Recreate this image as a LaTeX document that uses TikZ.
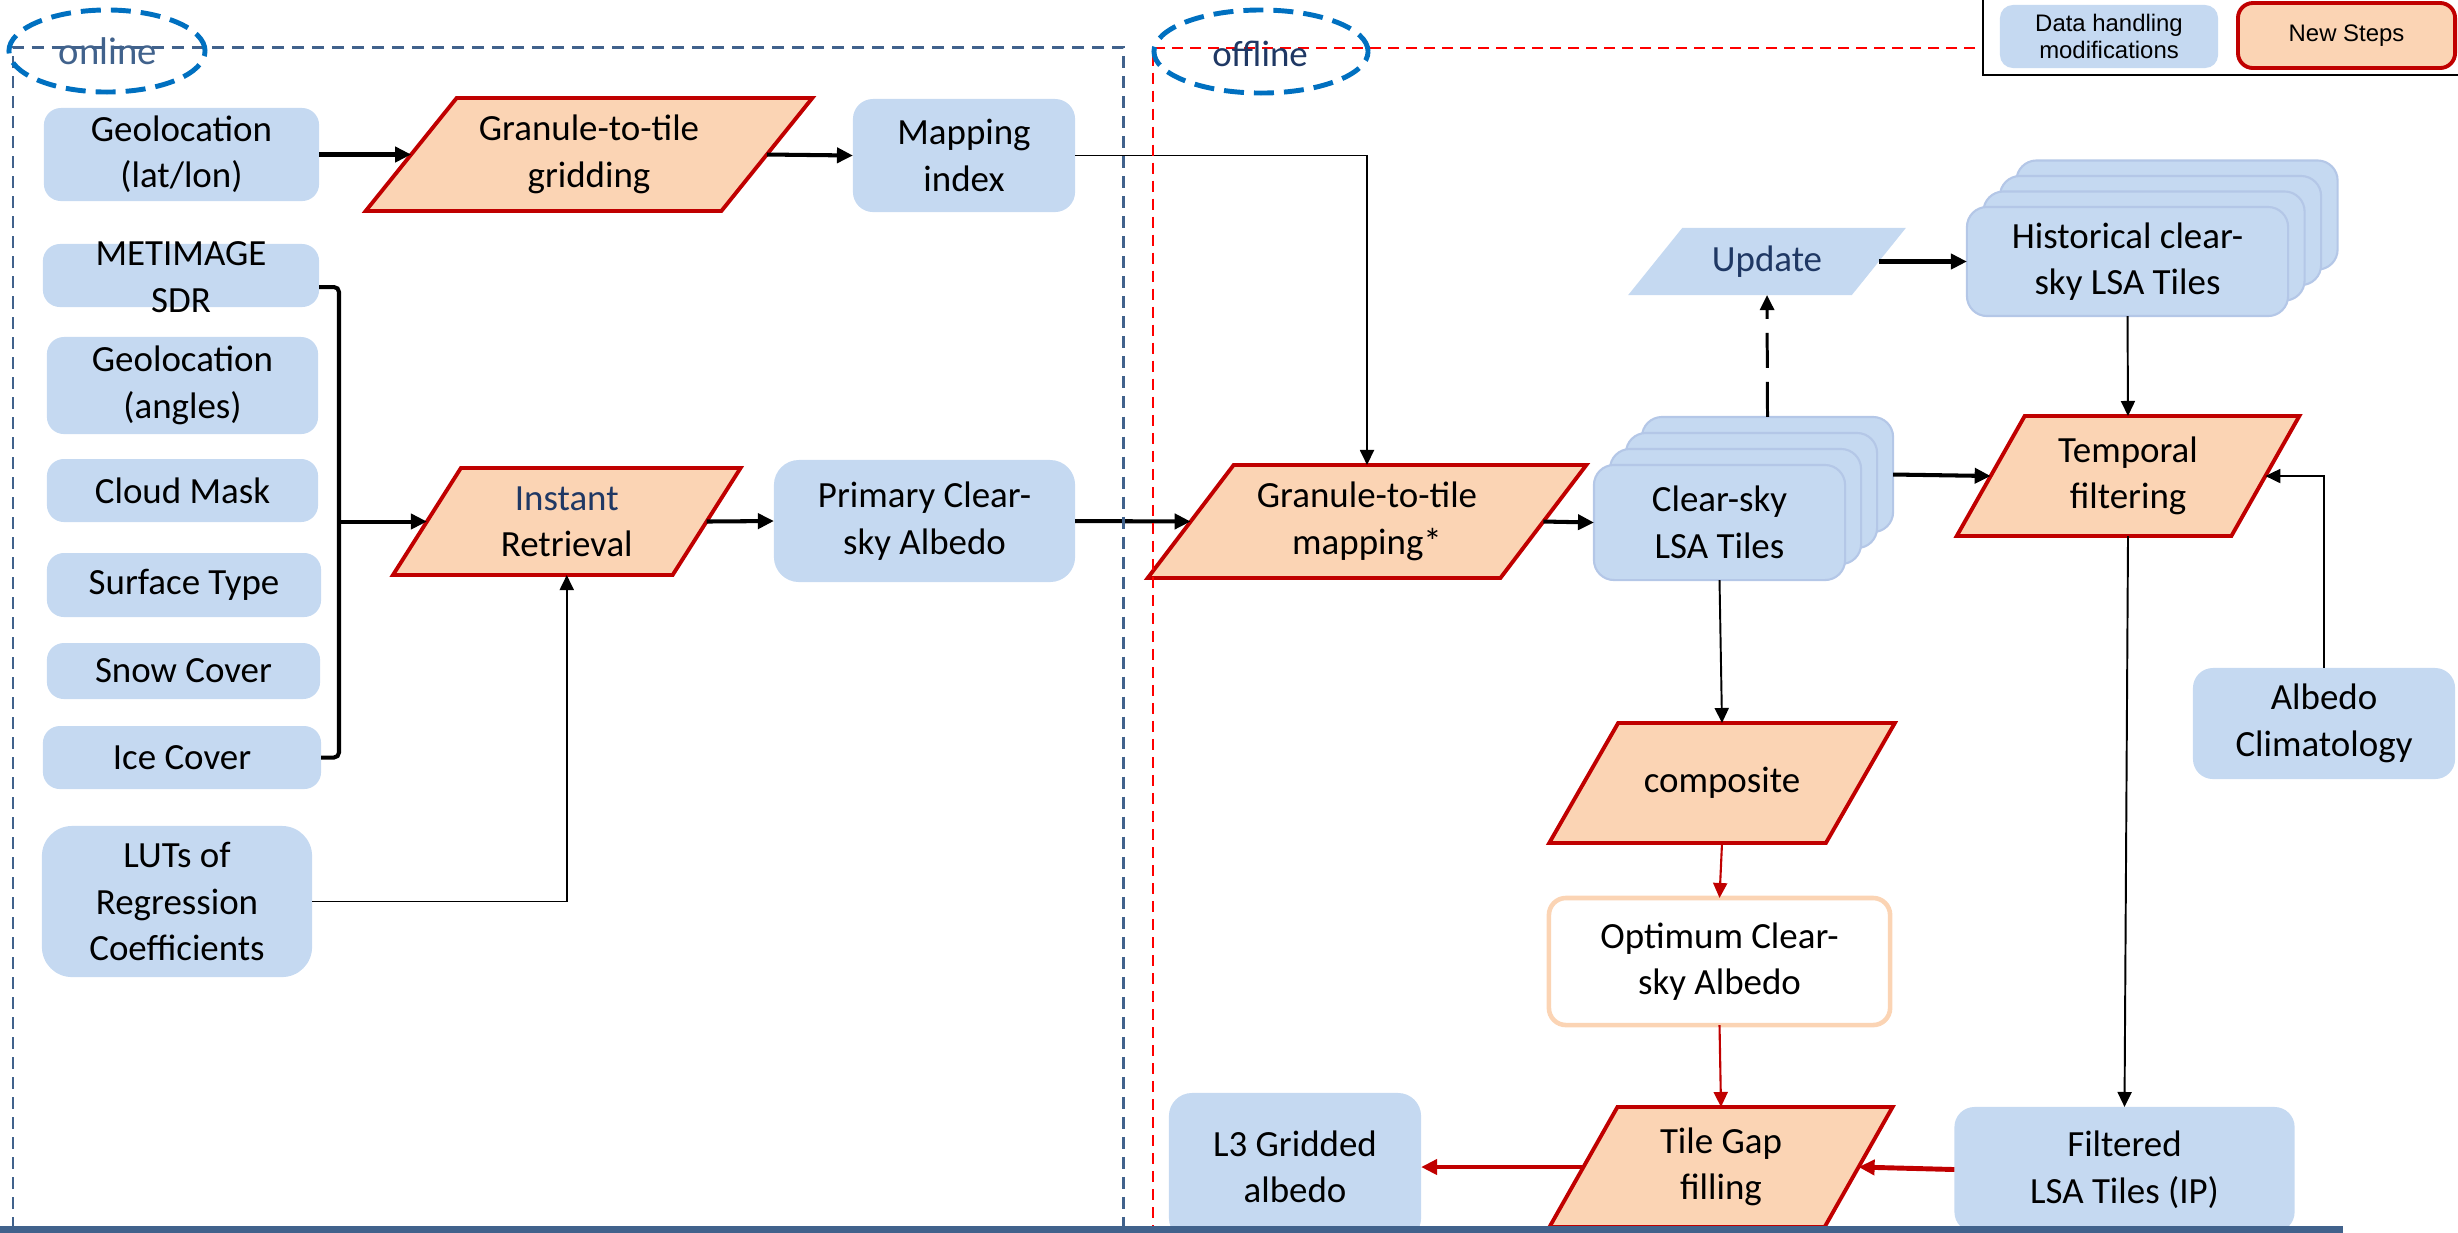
\documentclass[tikz,border=0pt]{standalone}
\usepackage{fontspec}
\setmainfont{Carlito}
\newfontfamily\legendfont{Liberation Sans}
\usetikzlibrary{arrows.meta,calc}

\definecolor{boxblue}{RGB}{197,217,241}
\definecolor{stackedge}{RGB}{180,199,231}
\definecolor{peach}{RGB}{251,212,180}
\definecolor{stepred}{RGB}{192,0,0}
\definecolor{navy}{RGB}{31,56,100}
\definecolor{framegray}{RGB}{65,98,140}
\definecolor{ovalblue}{RGB}{0,112,192}
\definecolor{offred}{RGB}{255,0,0}

\pgfdeclarelayer{background}
\pgfsetlayers{background,main}

% parallelogram drawn round a rectangular node: #1 node, #2 half slant, #3 style
\newcommand\slantframe[3]{%
  \begin{pgfonlayer}{background}
    \path[#3] ($(#1.north west)+(#2,0)$) -- ($(#1.north east)+(#2,0)$)
      -- ($(#1.south east)-(#2,0)$) -- ($(#1.south west)-(#2,0)$) -- cycle;
  \end{pgfonlayer}}

\tikzset{
  every node/.style={inner sep=0pt, outer sep=0pt, align=center,
    font=\fontsize{10.5}{13.2}\selectfont},
  inbox/.style={fill=boxblue, rounded corners=0.17cm},
  tilebox/.style={fill=boxblue, draw=stackedge, line width=0.6pt, rounded corners=0.2cm},
  newstep/.style={fill=peach, draw=stepred, line width=1.1pt, line join=miter},
  datastep/.style={fill=boxblue},
  thickflow/.style={draw=black, line width=1.15pt, -{Triangle[length=0.16cm,width=0.15cm]}},
  thinflow/.style={draw=black, line width=0.55pt, -{Triangle[length=0.15cm,width=0.14cm]}},
  dashflow/.style={draw=black, line width=0.85pt, dash pattern=on 0.35cm off 0.14cm,
    -{Triangle[length=0.15cm,width=0.14cm]}},
  redthin/.style={draw=stepred, line width=0.6pt, -{Triangle[length=0.15cm,width=0.14cm]}},
  redthick/.style={draw=stepred, line width=1.4pt, -{Triangle[length=0.16cm,width=0.15cm]}},
  onlineframe/.style={draw=framegray, line width=0.85pt, dash pattern=on 0.12cm off 0.08cm},
  offlineframe/.style={draw=offred, line width=0.6pt, dash pattern=on 0.11cm off 0.07cm},
  oval/.style={draw=ovalblue, line width=1.4pt, dash pattern=on 0.2cm off 0.1cm},
  legendtext/.style={font=\legendfont\fontsize{6.8}{7.7}\selectfont}
}

\begin{document}
\begin{tikzpicture}[x=0.01cm, y=-0.01cm]
\useasboundingbox (0,0) rectangle (2458,1232);

% ---------- online inputs ----------
\node[inbox, minimum width=2.75cm, minimum height=0.93cm] (geo) at (181.5,154.5) {Geolocation\\(lat/lon)};
\node[inbox, minimum width=2.76cm, minimum height=0.63cm] (meti) at (181,275.5) {};
\node (metitext) at (181,277) {METIMAGE\\SDR};
\node[inbox, minimum width=2.71cm, minimum height=0.97cm] (geoang) at (182.5,385.5) {Geolocation\\(angles)};
\node[inbox, minimum width=2.71cm, minimum height=0.63cm] (cloud) at (182.5,490.5) {Cloud Mask};
\node[inbox, minimum width=2.74cm, minimum height=0.64cm] (surf) at (184,585) {Surface Type};
\node[inbox, minimum width=2.73cm, minimum height=0.56cm] (snow) at (183.5,671) {Snow Cover};
\node[inbox, minimum width=2.78cm, minimum height=0.63cm] (ice) at (182,757.5) {Ice Cover};
\node[inbox, rounded corners=0.3cm, minimum width=2.70cm, minimum height=1.51cm] (luts) at (177,901.5) {LUTs of\\Regression\\Coefficients};

% ---------- online processing ----------
\node[minimum width=3.555cm, minimum height=1.13cm] (grid) at (589,154.5) {Granule-to-tile\\gridding};
\slantframe{grid}{45.5}{newstep}
\node[inbox, rounded corners=0.2cm, minimum width=2.22cm, minimum height=1.13cm] (mapidx) at (964,155.5) {Mapping\\index};
\node[minimum width=2.795cm, minimum height=1.07cm] (instant) at (566.75,521.5) {\textcolor{navy}{Instant}\\Retrieval};
\slantframe{instant}{34}{newstep}
\node[inbox, rounded corners=0.25cm, minimum width=3.01cm, minimum height=1.22cm] (primary) at (924.5,521) {Primary Clear-\\sky Albedo};

% ---------- offline processing ----------
\node[minimum width=3.525cm, minimum height=1.13cm] (gmap) at (1367,521.5) {Granule-to-tile\\mapping*};
\slantframe{gmap}{43}{newstep}

\foreach \k in {3,2,1}
  \node[tilebox, minimum width=2.51cm, minimum height=1.15cm] (clear\k) at ({1719.5+16*\k},{522.5-16*\k}) {};
\node[tilebox, minimum width=2.51cm, minimum height=1.15cm] (clear) at (1719.5,522.5) {Clear-sky\\LSA Tiles};

\node[text=navy, minimum width=2.235cm, minimum height=0.67cm] (update) at (1767,261.5) {Update};
\slantframe{update}{27}{datastep}

\foreach \k in {3,2,1}
  \node[tilebox, minimum width=3.21cm, minimum height=1.09cm] (hist\k) at ({2127.5+16.5*\k},{261.5-15.5*\k}) {};
\node[tilebox, minimum width=3.21cm, minimum height=1.09cm] (hist) at (2127.5,261.5) {Historical clear-\\sky LSA Tiles};

\node[minimum width=2.745cm, minimum height=1.2cm] (temporal) at (2128,476) {Temporal\\filtering};
\slantframe{temporal}{34}{newstep}
\node[inbox, rounded corners=0.2cm, minimum width=2.62cm, minimum height=1.11cm] (albclim) at (2324,723.5) {Albedo\\Climatology};

\node[minimum width=2.765cm, minimum height=1.2cm] (composite) at (1722,783) {composite};
\slantframe{composite}{34.5}{newstep}
\node[fill=white, draw=peach, line width=1.3pt, rounded corners=0.17cm, minimum width=3.41cm, minimum height=1.27cm] (optimum) at (1719.5,961.5) {Optimum Clear-\\sky Albedo};
\node[minimum width=2.75cm, minimum height=1.2cm] (tilegap) at (1721,1167) {Tile Gap\\filling};
\slantframe{tilegap}{34}{newstep}
\node[inbox, rounded corners=0.23cm, minimum width=2.52cm, minimum height=1.48cm] (l3) at (1295,1167) {L3 Gridded\\albedo};
\node[inbox, rounded corners=0.2cm, minimum width=3.40cm, minimum height=1.25cm] (filtered) at (2124.5,1169.5) {Filtered\\LSA Tiles (IP)};

% ---------- connectors ----------
\draw[thickflow] (geo.east) -- (grid.west);
\draw[thickflow] (grid.east) -- (mapidx.west);
\draw[thinflow] (mapidx.east) -| (gmap.north);

\coordinate (brk) at (339,521.5);
\draw[line width=1.15pt, rounded corners=0.05cm] ([yshift=-0.115cm]meti.east) -| (brk) |- (ice.east);
\draw[thickflow] (brk) -- (instant.west);
\draw[thinflow] (luts.east) -| (instant.south);
\draw[thickflow] (instant.east) -- (primary.west);
\draw[thickflow] (primary.east) -- (gmap.west);
\draw[thickflow] (gmap.east) -- (clear.west);

\draw[dashflow] (clear3.north) -- (update.south);
\draw[thickflow] (update.east) -- (hist.west);
\draw[thinflow] (hist.south) -- (temporal.north);
\draw[thickflow] (clear3.east) -- (temporal.west);
\draw[thinflow] (albclim.north) |- (temporal.east);
\draw[thinflow] (temporal.south) -- (filtered.north);

\draw[thinflow] (clear.south) -- (composite.north);
\draw[redthin] (composite.south) -- (optimum.north);
\draw[redthin] (optimum.south) -- (tilegap.north);
\draw[redthick] (tilegap.west) -- (l3.east);
\draw[redthick] (filtered.west) -- (tilegap.east);

% ---------- online / offline frames ----------
\draw[onlineframe] (13,1229) -- (13,47) -- (1123,47) -- (1123,1229);
\draw[offlineframe] (1975,48) -- (1153,48) -- (1153,1229);
\node[text=framegray, font=\fontsize{11}{13}\selectfont, anchor=base] (onlinelbl) at (108,64) {online};
\node[text=navy, anchor=base] (offlinelbl) at (1260,66) {offline};
\draw[oval] (107,51) ellipse [x radius=0.98cm, y radius=0.41cm];
\draw[oval] (1261,51.5) ellipse [x radius=1.07cm, y radius=0.415cm];

% ---------- legend ----------
\draw[black, line width=0.8pt, fill=white] (1983,-10) rectangle (2470,75);
\node[inbox, rounded corners=0.13cm, legendtext, minimum width=2.18cm, minimum height=0.63cm] (legdata) at (2109,36.5) {Data handling\\modifications};
\node[fill=peach, draw=stepred, line width=1.1pt, rounded corners=0.15cm, legendtext, minimum width=2.17cm, minimum height=0.65cm] (legnew) at (2346.5,35.5) {New Steps};

% ---------- bottom rule ----------
\fill[framegray] (0,1226) rectangle (2343,1236);
\end{tikzpicture}
\end{document}
